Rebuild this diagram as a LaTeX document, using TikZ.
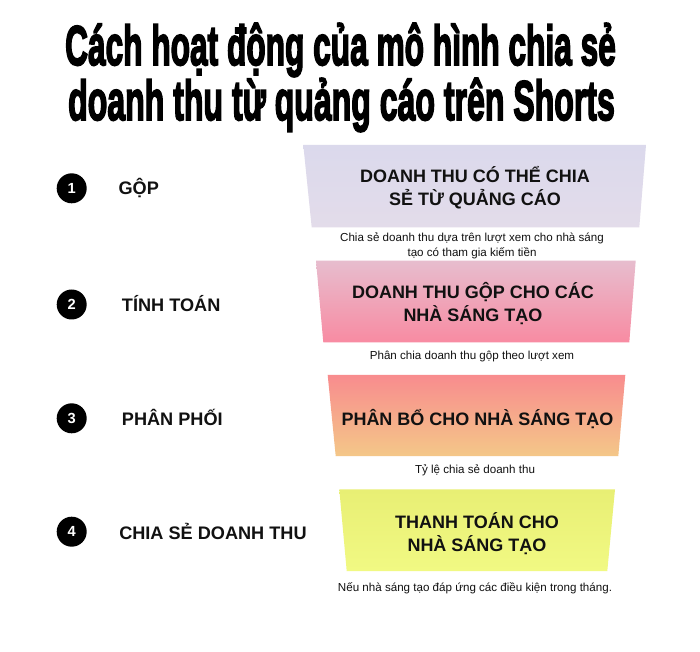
\documentclass[tikz,border=0pt]{standalone}
\usepackage{fontspec}
\usepackage{graphicx}
\setmainfont{Liberation Sans}
\newfontfamily\titlefont[FakeBold=3.5]{Liberation Sans}
\definecolor{tAtop}{HTML}{DBD9EC}
\definecolor{tAbot}{HTML}{E3DCEA}
\definecolor{tBtop}{HTML}{E7BDCE}
\definecolor{tBbot}{HTML}{F88BA2}
\definecolor{tCtop}{HTML}{F88C8E}
\definecolor{tCbot}{HTML}{F4C788}
\definecolor{tDtop}{HTML}{E8EF74}
\definecolor{tDbot}{HTML}{F1F983}
\definecolor{ink}{HTML}{111111}
\tikzset{
  boxtext/.style={align=center, font=\fontsize{13.5pt}{17.3pt}\selectfont\bfseries, text=ink, inner sep=0pt},
  steplabel/.style={anchor=base west, font=\fontsize{13.6pt}{16pt}\selectfont\bfseries, text=ink, inner sep=0pt},
  numdot/.style={circle, fill=black, minimum size=22.5pt, inner sep=0pt, text=white, font=\fontsize{11pt}{11pt}\selectfont\bfseries},
  caption/.style={align=center, font=\fontsize{8.7pt}{10.9pt}\selectfont, text=ink, inner sep=0pt},
  titleline/.style={anchor=base, inner sep=0pt, text=black}
}
\begin{document}
\begin{tikzpicture}[x=0.75pt, y=-0.75pt]
\useasboundingbox (0,0) rectangle (700,652);
\fill[white] (0,0) rectangle (700,652);

% title
\node[titleline] (title1) at (340.5,65) {\resizebox{413pt}{\height}{\titlefont\fontsize{42pt}{42pt}\selectfont\bfseries Cách hoạt động của mô hình chia sẻ}};
\node[titleline] (title2) at (341.5,120) {\resizebox{410pt}{\height}{\titlefont\fontsize{42pt}{42pt}\selectfont\bfseries doanh thu từ quảng cáo trên Shorts}};

% funnel boxes
\shade[top color=tAtop, bottom color=tAbot] (303.3,145) -- (646,145) -- (639.3,227.3) -- (311.7,227.3) -- cycle;
\shade[top color=tBtop, bottom color=tBbot] (316,260.7) -- (635.7,260.7) -- (629.3,342.3) -- (323.3,342.3) -- cycle;
\shade[top color=tCtop, bottom color=tCbot] (327.7,375) -- (625.3,375) -- (618.3,456) -- (335.7,456) -- cycle;
\shade[top color=tDtop, bottom color=tDbot] (339.3,489.3) -- (615,489.3) -- (607.3,571) -- (346.7,571) -- cycle;

% box texts (base anchor = last line)
\node[boxtext, anchor=base] (b1) at (475,206) {DOANH THU CÓ THỂ CHIA\\SẺ TỪ QUẢNG CÁO};
\node[boxtext, anchor=base] (b2) at (473,322) {DOANH THU GỘP CHO CÁC\\NHÀ SÁNG TẠO};
\node[boxtext, anchor=base] (b3) at (477.5,425) {PHÂN BỔ CHO NHÀ SÁNG TẠO};
\node[boxtext, anchor=base] (b4) at (477,551.5) {THANH TOÁN CHO\\NHÀ SÁNG TẠO};

% captions
\node[caption, anchor=base] (c1) at (472,256.5) {Chia sẻ doanh thu dựa trên lượt xem cho nhà sáng\\tạo có tham gia kiếm tiền};
\node[caption, anchor=base] (c2) at (472,359.5) {Phân chia doanh thu gộp theo lượt xem};
\node[caption, anchor=base] (c3) at (475,473) {Tỷ lệ chia sẻ doanh thu};
\node[caption, anchor=base] (c4) at (475,591) {Nếu nhà sáng tạo đáp ứng các điều kiện trong tháng.};

% step numbers
\node[numdot] (n1) at (71.7,188.3) {1};
\node[numdot] (n2) at (71.7,304.5) {2};
\node[numdot] (n3) at (71.7,418.3) {3};
\node[numdot] (n4) at (71.7,531.7) {4};

% step labels
\node[steplabel] (l1) at (118.3,195) {GỘP};
\node[steplabel] (l2) at (121.7,311.5) {TÍNH TOÁN};
\node[steplabel] (l3) at (121.7,425) {PHÂN PHỐI};
\node[steplabel] (l4) at (119,539.5) {CHIA SẺ DOANH THU};
\end{tikzpicture}
\end{document}
